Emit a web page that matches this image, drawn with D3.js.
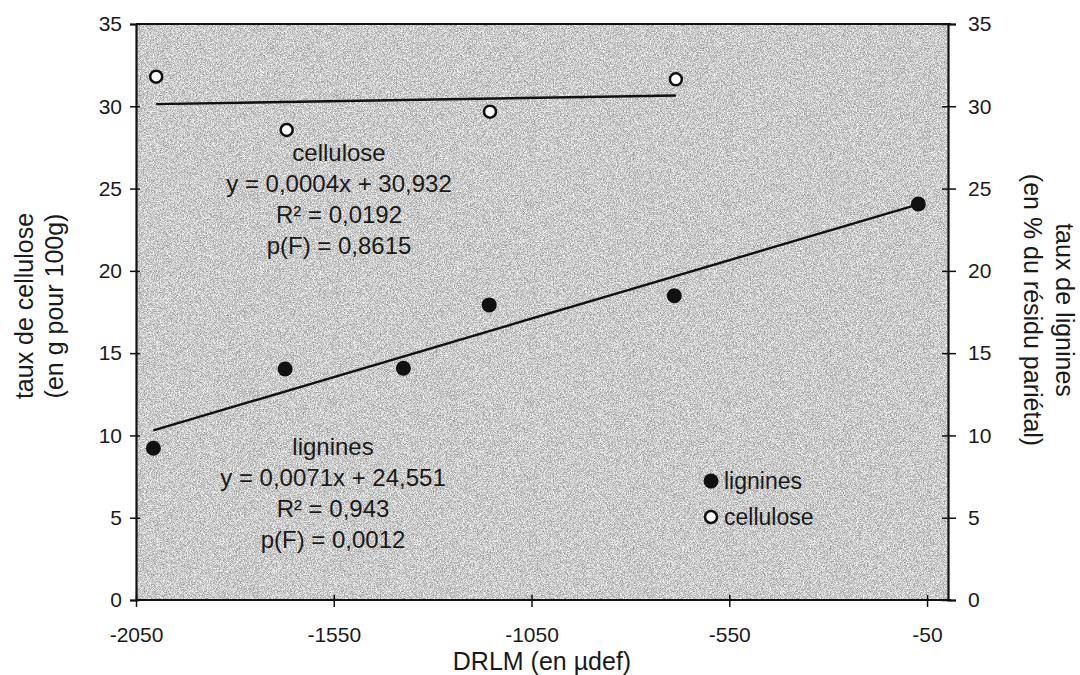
<!DOCTYPE html>
<html>
<head>
<meta charset="utf-8">
<script src="https://cdn.jsdelivr.net/npm/d3@7"></script>
<style>
  body { margin: 0; background: #fff; }
  svg { font-family: "Liberation Sans", Arial, sans-serif; }
</style>
</head>
<body>
<div id="chart"></div>
<script>
// data
let drlm_cellulose = [-1999, -1669, -1155, -685];
let cellulose = [31.8, 28.56, 29.67, 31.64];
let drlm_lignines = [-2006, -1673, -1374, -1157, -689, -72];
let lignines = [9.22, 14.04, 14.08, 17.93, 18.49, 24.06];

// regression equations printed on the chart
let fit_cellulose = {slope: 0.0004, intercept: 30.932};
let fit_lignines = {slope: 0.0071, intercept: 24.551};

let x_ticks = [-2050, -1550, -1050, -550, -50];
let y_ticks = [0, 5, 10, 15, 20, 25, 30, 35];

let label_cellulose = ["cellulose", "y = 0,0004x + 30,932", "R² = 0,0192", "p(F) = 0,8615"];
let label_lignines = ["lignines", "y = 0,0071x + 24,551", "R² = 0,943", "p(F) = 0,0012"];

function chart() {
    let margin = {top: 24, right: 132, bottom: 75, left: 136},
        width = 1080 - margin.left - margin.right,
        height = 675 - margin.top - margin.bottom;

    let root = d3.select("#chart")
        .append("svg")
        .attr("width", 1080)
        .attr("height", 675);

    // grainy grey background like the scan
    let defs = root.append("defs");
    let f = defs.append("filter").attr("id", "grain")
        .attr("x", 0).attr("y", 0).attr("width", "100%").attr("height", "100%")
        .attr("color-interpolation-filters", "sRGB");
    f.append("feTurbulence")
        .attr("type", "fractalNoise")
        .attr("baseFrequency", 1.3)
        .attr("numOctaves", 1)
        .attr("seed", 5);
    f.append("feColorMatrix")
        .attr("type", "matrix")
        .attr("values", "0.85 0 0 0 0.37  0.85 0 0 0 0.37  0.85 0 0 0 0.37  0 0 0 0 1");

    let svg = root.append("g")
        .attr("transform", "translate(" + margin.left + "," + margin.top + ")");

    let x = d3.scaleLinear().domain([-2050, 3]).range([0, width]);
    let y = d3.scaleLinear().domain([0, 35]).range([height, 0]);

    svg.append("rect")
        .attr("width", width).attr("height", height)
        .attr("fill", "#c6c6c6")
        .attr("filter", "url(#grain)");

    // top frame line
    svg.append("line")
        .attr("x1", 0).attr("x2", width + 3)
        .attr("y1", 0).attr("y2", 0)
        .attr("stroke", "#111").attr("stroke-width", 2);

    // axes
    let xAxis = svg.append("g")
        .attr("transform", "translate(0," + height + ")")
        .call(d3.axisBottom(x).tickValues(x_ticks).tickFormat(function (d) { return String(d); })
            .tickSize(7).tickPadding(20));
    xAxis.selectAll(".tick line").attr("y1", -5);

    let yLeft = svg.append("g")
        .call(d3.axisLeft(y).tickValues(y_ticks).tickSize(6).tickPadding(8));
    yLeft.selectAll(".tick line").attr("x1", 4);

    let yRight = svg.append("g")
        .attr("transform", "translate(" + width + ",0)")
        .call(d3.axisRight(y).tickValues(y_ticks).tickSize(8).tickPadding(12));
    yRight.selectAll(".tick line").attr("x1", -6);

    [xAxis, yLeft, yRight].forEach(function (a) {
        a.attr("font-size", 21).attr("font-family", "Liberation Sans, Arial, sans-serif");
        a.select(".domain").attr("stroke", "#111").attr("stroke-width", 2.2);
        a.selectAll(".tick line").attr("stroke", "#111").attr("stroke-width", 1.5);
        a.selectAll(".tick text").attr("fill", "#1a1a1a");
    });
    xAxis.select(".domain").attr("d", "M0,0H" + (width + 3));

    // regression lines
    function fitLine(xs, fit) {
        let x0 = d3.min(xs), x1 = d3.max(xs);
        return [[x0, fit.slope * x0 + fit.intercept], [x1, fit.slope * x1 + fit.intercept]];
    }
    let line = d3.line()
        .x(function (d) { return x(d[0]); })
        .y(function (d) { return y(d[1]); });

    svg.append("path")
        .datum(fitLine(drlm_cellulose, fit_cellulose))
        .attr("d", line)
        .attr("fill", "none").attr("stroke", "#111").attr("stroke-width", 2.4);
    svg.append("path")
        .datum(fitLine(drlm_lignines, fit_lignines))
        .attr("d", line)
        .attr("fill", "none").attr("stroke", "#111").attr("stroke-width", 2.4);

    // points
    svg.append("g")
        .selectAll("circle")
        .data(d3.zip(drlm_lignines, lignines))
        .enter()
        .append("circle")
        .attr("cx", function (d) { return x(d[0]); })
        .attr("cy", function (d) { return y(d[1]); })
        .attr("r", 7.5)
        .attr("fill", "#111");

    svg.append("g")
        .selectAll("circle")
        .data(d3.zip(drlm_cellulose, cellulose))
        .enter()
        .append("circle")
        .attr("cx", function (d) { return x(d[0]); })
        .attr("cy", function (d) { return y(d[1]); })
        .attr("r", 6)
        .attr("fill", "#fff")
        .attr("stroke", "#111")
        .attr("stroke-width", 2.5);

    // equation labels
    function block(lines, cx, cy0) {
        svg.append("g").selectAll("text")
            .data(lines)
            .enter()
            .append("text")
            .attr("x", cx)
            .attr("y", function (d, i) { return cy0 + i * 31; })
            .attr("text-anchor", "middle")
            .attr("font-size", 24)
            .attr("fill", "#1a1a1a")
            .text(function (d) { return d; });
    }
    block(label_cellulose, 203, 137);
    block(label_lignines, 197, 431);

    // legend
    let legend = svg.append("g").attr("transform", "translate(575,457)");
    legend.append("circle").attr("cx", 0).attr("cy", 0).attr("r", 7.5).attr("fill", "#111");
    legend.append("text").attr("x", 13).attr("y", 8).attr("font-size", 23)
        .attr("fill", "#1a1a1a").text("lignines");
    legend.append("circle").attr("cx", 0).attr("cy", 36).attr("r", 6)
        .attr("fill", "#fff").attr("stroke", "#111").attr("stroke-width", 2.5);
    legend.append("text").attr("x", 13).attr("y", 44).attr("font-size", 23)
        .attr("fill", "#1a1a1a").text("cellulose");

    // axis titles
    root.append("text")
        .attr("x", 542).attr("y", 670)
        .attr("text-anchor", "middle").attr("font-size", 25).attr("fill", "#1a1a1a")
        .text("DRLM (en µdef)");

    let lt = root.append("text")
        .attr("transform", "translate(0,306) rotate(-90)")
        .attr("text-anchor", "middle").attr("font-size", 25).attr("fill", "#1a1a1a");
    lt.append("tspan").attr("x", 0).attr("y", 33).text("taux de cellulose");
    lt.append("tspan").attr("x", 0).attr("y", 63).text("(en g pour 100g)");

    let rt = root.append("text")
        .attr("transform", "translate(0,310) rotate(90)")
        .attr("text-anchor", "middle").attr("font-size", 25).attr("fill", "#1a1a1a");
    rt.append("tspan").attr("x", 0).attr("y", -1056).text("taux de lignines");
    rt.append("tspan").attr("x", 0).attr("y", -1024).text("(en % du résidu pariétal)");
}

chart();
</script>
</body>
</html>
